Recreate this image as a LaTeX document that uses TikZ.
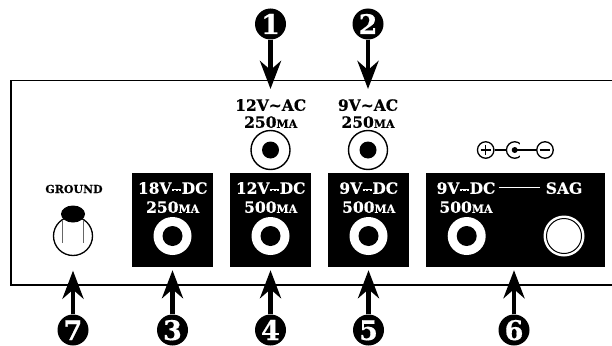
\documentclass[tikz,border=0pt]{standalone}
\usepackage{fontspec}
\setmainfont{DejaVu Serif}[BoldFont={DejaVu Serif Bold},BoldFeatures={FakeBold=0.5}]
\usetikzlibrary{arrows.meta,shapes.geometric}
\newcommand{\dcs}{\hspace{.6pt}\raisebox{2.6pt}{\vbox{\offinterlineskip\hbox{\rule{9pt}{.7pt}}\vskip1.1pt\hbox{\rule{2.2pt}{.7pt}\hspace{1.2pt}\rule{2.2pt}{.7pt}\hspace{1.2pt}\rule{2.2pt}{.7pt}}}}\hspace{.6pt}}
\newcommand{\sma}[1]{{\fontsize{11}{11}\selectfont #1}}
\tikzset{
  x=1pt,y=-1pt,
  panel/.style={line width=1.5pt,black},
  blackbox/.style={fill=black,draw=none,minimum width=81pt,minimum height=94pt,inner sep=0},
  widebox/.style={blackbox,minimum width=179pt},
  jackw/.style={circle,fill=white,draw=none,minimum size=38pt,inner sep=0},
  dotk/.style={circle,fill=black,draw=none,minimum size=20pt,inner sep=0},
  acjack/.style={circle,fill=white,draw=black,line width=1.4pt,minimum size=39pt,inner sep=0},
  acdot/.style={circle,fill=black,draw=none,minimum size=17pt,inner sep=0},
  num/.style={circle,fill=black,text=white,minimum size=31pt,inner sep=0,text height=20pt,text depth=0pt,font=\bfseries\fontsize{27}{27}\selectfont},
  lbl/.style={inner sep=0,font=\bfseries\fontsize{15.5}{16}\selectfont,text height=11.5pt,text depth=0pt,black},
  lblw/.style={lbl,text=white},
  callout/.style={line width=4.8pt,-{Stealth[length=28pt,width=21pt,inset=9pt]}},
  sym/.style={draw=black,line width=1.3pt,fill=none,circle,minimum size=16.5pt,inner sep=0},
}
\begin{document}
\begin{tikzpicture}
\useasboundingbox (0,0) rectangle (612,345);
% panel
\draw[panel] (612,80.5) -- (11,80.5) -- (11,285) -- (612,285);
% black boxes
\node[blackbox] (b3) at (172.5,220) {};
\node[blackbox] (b4) at (270.5,220) {};
\node[blackbox] (b5) at (368.5,220) {};
\node[widebox]  (b6) at (515.5,220) {};
% white jacks
\foreach \n/\x in {j3/172.5,j4/270.5,j5/368.5,j6/466.7}{
  \node[jackw] (\n) at (\x,236) {};
  \node[dotk] at (\n) {};
}
% SAG
\node[circle,fill=white,minimum size=41pt,inner sep=0] (sag) at (564,236) {};
\node[circle,draw=black,fill=white,line width=1pt,minimum size=35pt,inner sep=0] at (sag) {};
\draw[white,line width=1pt] (499,187) -- (540,187);
% AC jacks
\foreach \n/\x in {j1/270.5,j2/368}{
  \node[acjack] (\n) at (\x,150) {};
  \node[acdot] at (\n) {};
}
% labels
\node[lblw] at (172.7,188) {18V\dcs DC};
\node[lblw] at (172.7,207) {250\sma{MA}};
\node[lblw] at (270.7,188) {12V\dcs DC};
\node[lblw] at (270.7,207) {500\sma{MA}};
\node[lblw] at (368.7,188) {9V\dcs DC};
\node[lblw] at (368.7,207) {500\sma{MA}};
\node[lblw] at (466,188) {9V\dcs DC};
\node[lblw] at (466,207) {500\sma{MA}};
\node[lblw] at (564,188) {SAG};
\node[lbl] at (270.7,105) {12V\char`~AC};
\node[lbl] at (270.7,122) {250\sma{MA}};
\node[lbl] at (368,105) {9V\char`~AC};
\node[lbl] at (368,122) {250\sma{MA}};
\node[lbl,font=\bfseries\fontsize{11}{11}\selectfont,text height=8pt] at (74,189) {GROUND};
% polarity symbol
\node[sym] (sp) at (485.7,150) {};
\node[sym] (sc) at (514.7,150) {};
\node[sym] (sm) at (545,150) {};
\fill[white] (519.5,143) rectangle (524,157);
\fill[black] (sc) circle (3pt);
\draw[line width=1.3pt] (sp) -- (sc);
\draw[line width=1.3pt] (sc.center) -- (sm);
\draw[line width=1.1pt] (480.5,150) -- (491,150) (485.7,144.7) -- (485.7,155.3);
\draw[line width=1.1pt] (539.7,150) -- (550.3,150);
% ground post
\node[circle,draw=black,fill=white,line width=1.3pt,minimum size=39pt,inner sep=0] (gc) at (73,236) {};
\draw[black!60,line width=.9pt] (62,220) -- (62,243) (83,220) -- (83,243);
\node[ellipse,fill=black,minimum width=24pt,minimum height=17pt,inner sep=0] (gp) at (73,214) {};
% numbered callouts
\node[num] (n1) at (270.5,24) {1};
\node[num] (n2) at (368,24) {2};
\node[num] (n3) at (172.5,330) {3};
\node[num] (n4) at (270.5,330) {4};
\node[num] (n5) at (368.5,330) {5};
\node[num] (n6) at (514,330) {6};
\node[num] (n7) at (73,330) {7};
\coordinate (t1) at (270.5,89);
\coordinate (t2) at (368,89);
\draw[callout] (n1) -- (t1);
\draw[callout] (n2) -- (t2);
\draw[callout,shorten >=3pt] (n3) -- (b3.south);
\draw[callout,shorten >=3pt] (n4) -- (b4.south);
\draw[callout,shorten >=3pt] (n5) -- (b5.south);
\draw[callout,shorten >=3pt] (n6) -- (n6 |- b6.south);
\draw[callout,shorten >=14.5pt] (n7) -- (gc);
\end{tikzpicture}
\end{document}
